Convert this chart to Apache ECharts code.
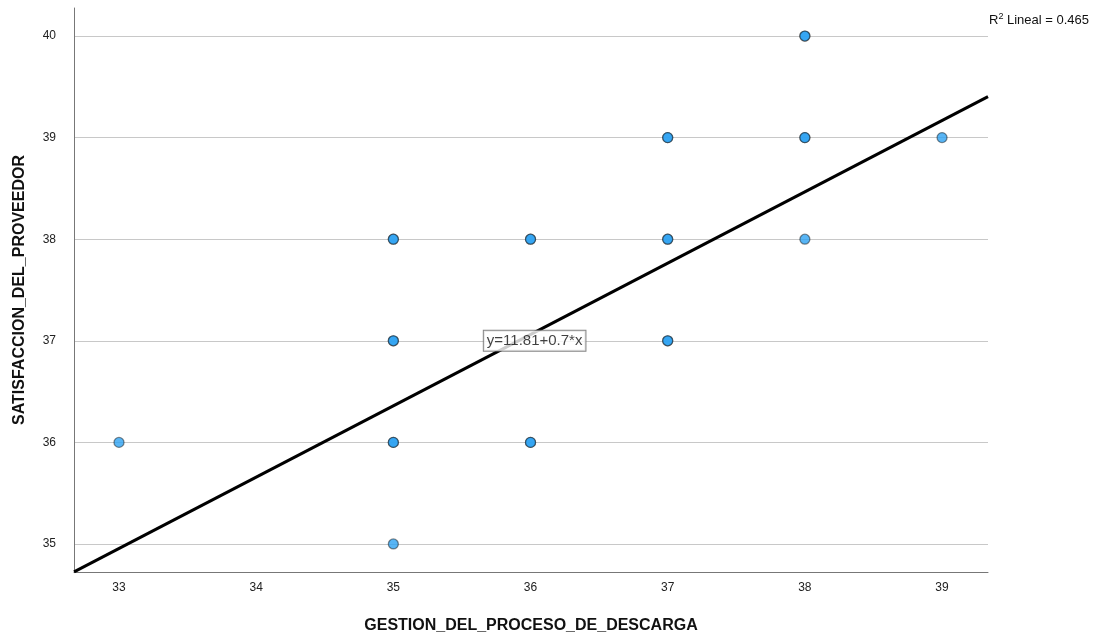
<!DOCTYPE html>
<html>
<head>
<meta charset="utf-8">
<script src="https://cdn.jsdelivr.net/npm/echarts@6/dist/echarts.min.js"></script>
<style>
html,body{margin:0;padding:0;background:#fff;}
#chart{width:1104px;height:638px;}
</style>
</head>
<body>
<div id="chart"></div>
<script>
// Data (x = GESTION_DEL_PROCESO_DE_DESCARGA, y = SATISFACCION_DEL_PROVEEDOR)
var xValues = [33, 35, 35, 35, 35, 35, 35, 35, 36, 36, 36, 36, 37, 37, 37, 37, 37, 37, 38, 38, 38, 38, 38, 39];
var yValues = [36, 38, 38, 37, 37, 36, 36, 35, 38, 38, 36, 36, 39, 39, 38, 38, 37, 37, 40, 40, 39, 39, 38, 39];
var xTicks = [33, 34, 35, 36, 37, 38, 39];
var yTicks = [35, 36, 37, 38, 39, 40];
// fit line as drawn (unrounded estimate) and as printed
var fitIntercept = 11.79;
var fitSlope = 0.702;
var shownIntercept = '11.81';
var shownSlope = '0.7';
var r2 = 0.465;
var xTitle = 'GESTION_DEL_PROCESO_DE_DESCARGA';
var yTitle = 'SATISFACCION_DEL_PROVEEDOR';

var xMin = 32.672, xMax = 39.335;
var yMin = 34.724, yMax = 40.276;

var points = xValues.map(function (x, i) { return [x, yValues[i]]; });
var fitLine = [[xMin, fitIntercept + fitSlope * xMin], [xMax, fitIntercept + fitSlope * xMax]];
var labelPos = [36.03, 37];

var chart = echarts.init(document.getElementById('chart'), null, {renderer: 'canvas'});
chart.setOption({
  animation: false,
  backgroundColor: '#fff',
  grid: {left: 74, right: 116, top: 8, bottom: 66, containLabel: false, outerBoundsMode: 'none'},
  xAxis: {
    type: 'value', min: xMin, max: xMax,
    name: xTitle, nameLocation: 'middle', nameGap: 46,
    nameTextStyle: {fontFamily: 'Liberation Sans, Arial', fontWeight: 'bold', fontSize: 16, color: '#111'},
    axisLine: {show: true, onZero: false, lineStyle: {color: '#777', width: 1}},
    axisTick: {show: false},
    splitLine: {show: false},
    axisLabel: {
      fontFamily: 'Liberation Sans, Arial', fontSize: 12, color: '#222', margin: 10,
      customValues: xTicks
    }
  },
  yAxis: {
    type: 'value', min: yMin, max: yMax,
    name: yTitle, nameLocation: 'middle', nameGap: 46, nameRotate: 90,
    nameTextStyle: {fontFamily: 'Liberation Sans, Arial', fontWeight: 'bold', fontSize: 16, color: '#111'},
    axisLine: {show: true, onZero: false, lineStyle: {color: '#777', width: 1}},
    axisTick: {show: false, customValues: yTicks},
    axisLabel: {
      fontFamily: 'Liberation Sans, Arial', fontSize: 12, color: '#222', margin: 18,
      customValues: yTicks
    },
    splitLine: {show: true, lineStyle: {color: '#c8c8c8', width: 1}}
  },
  series: [
    {
      type: 'line',
      data: fitLine,
      symbol: 'none',
      lineStyle: {color: '#000', width: 3},
      clip: true,
      silent: true,
      z: 3
    },
    {
      type: 'scatter',
      data: points,
      symbol: 'circle',
      symbolSize: 10,
      itemStyle: {color: '#2ea3f2', borderColor: 'rgba(20,20,20,0.6)', borderWidth: 1.3},
      z: 4
    },
    {
      type: 'scatter',
      data: [labelPos],
      symbolSize: 0,
      z: 5,
      label: {
        show: true, position: 'inside',
        formatter: function () { return 'y=' + shownIntercept + '+' + shownSlope + '*x'; },
        fontFamily: 'Liberation Sans, Arial', fontSize: 15, color: '#111',
        backgroundColor: '#fff', borderColor: '#666', borderWidth: 1,
        padding: [3, 3, 2, 3]
      }
    }
  ],
  graphic: [
    {
      type: 'text', left: 989, top: 12,
      style: {
        rich: {
          n: {fontFamily: 'Liberation Sans, Arial', fontSize: 13, fill: '#111'},
          s: {fontFamily: 'Liberation Sans, Arial', fontSize: 9, fill: '#111', verticalAlign: 'top', padding: [0, 0, 7, 0]}
        },
        text: '{n|R}{s|2}{n| Lineal = ' + r2.toFixed(3) + '}'
      }
    }
  ]
});
</script>
</body>
</html>
